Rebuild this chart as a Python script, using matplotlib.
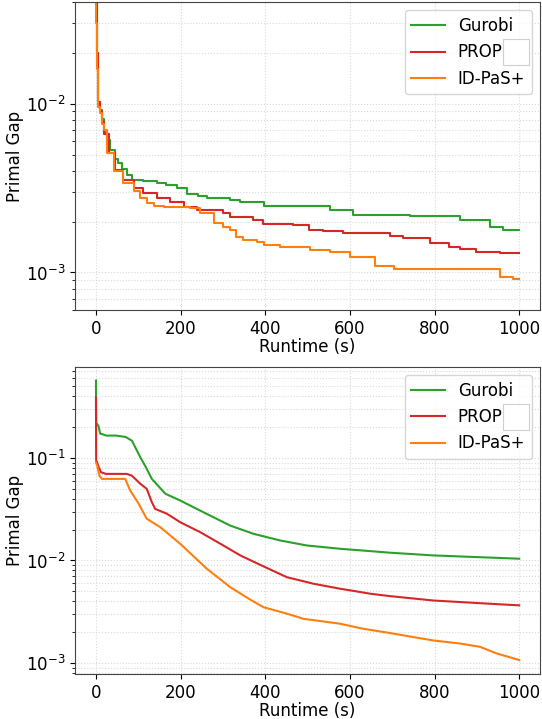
import matplotlib

matplotlib.use("Agg")
import matplotlib.pyplot as plt
from matplotlib.patches import Rectangle

plt.rcParams["font.family"] = "DejaVu Sans"
plt.rcParams["font.size"] = 12

LABELS = ["Gurobi", "PROP", "ID-PaS+"]
COLORS = ["tab:green", "tab:red", "tab:orange"]

# --- top panel: step curves (runtime s, primal gap) ---
top_gurobi_t = [0, 1, 2, 4, 6, 9, 14, 20, 26, 34, 46, 53, 62, 73, 85, 110, 144, 165,
                191, 215, 240, 262, 317, 341, 396, 553, 608, 743, 860, 931, 962, 1000]
top_gurobi_y = [0.2, 0.04, 0.02, 0.0125, 0.0102, 0.0092, 0.0081, 0.0068, 0.0061, 0.00534,
                0.0047, 0.00446, 0.0041, 0.0038, 0.00355, 0.00347, 0.00339, 0.0033,
                0.00316, 0.00291, 0.00282, 0.00275, 0.00269, 0.00263, 0.00248, 0.00233,
                0.00219, 0.00215, 0.00205, 0.00185, 0.00179, 0.00179]

top_prop_t = [0, 1, 2, 4, 6, 9, 14, 20, 30, 46, 65, 89, 112, 144, 175, 207, 238, 301,
              317, 372, 394, 465, 504, 536, 583, 695, 726, 790, 833, 860, 899, 954, 1000]
top_prop_y = [0.2, 0.04, 0.02, 0.0125, 0.0102, 0.009, 0.0078, 0.0066, 0.00512, 0.00407,
              0.00355, 0.00316, 0.00295, 0.00275, 0.00263, 0.00245, 0.00235, 0.00224,
              0.00214, 0.00205, 0.00194, 0.00191, 0.00179, 0.00176, 0.00171, 0.00164,
              0.00159, 0.00149, 0.00142, 0.00138, 0.00133, 0.0013, 0.0013]

top_idpas_t = [0, 1, 2, 4, 6, 9, 14, 18, 26, 42, 65, 89, 105, 120, 136, 160, 223, 246,
               278, 300, 317, 332, 348, 380, 396, 435, 506, 553, 600, 660, 703, 955, 986,
               1000]
top_idpas_y = [0.2, 0.03, 0.016, 0.0112, 0.0095, 0.0088, 0.0076, 0.00703, 0.00512,
               0.00397, 0.00339, 0.00302, 0.00275, 0.00258, 0.00248, 0.00245, 0.0024,
               0.00224, 0.00196, 0.00185, 0.00179, 0.00163, 0.00156, 0.00151, 0.00145,
               0.00142, 0.00135, 0.00133, 0.00124, 0.00109, 0.00105, 0.00094, 0.00092,
               0.00092]

# --- bottom panel: smooth curves ---
bot_gurobi_t = [0, 0.5, 2, 4, 6, 10, 14, 24, 47, 70, 85, 105, 116, 132, 164, 199, 254,
                317, 372, 435, 498, 577, 630, 695, 797, 1000]
bot_gurobi_y = [0.566, 0.214, 0.214, 0.21, 0.205, 0.172, 0.171, 0.165, 0.165, 0.16, 0.147,
                0.101, 0.084, 0.0624, 0.0447, 0.0384, 0.0295, 0.0219, 0.0182, 0.01567,
                0.014, 0.013, 0.0125, 0.0119, 0.0112, 0.0104]

bot_prop_t = [0, 0.5, 3, 5, 12, 24, 73, 85, 105, 120, 132, 140, 168, 199, 246, 294, 341,
              396, 451, 514, 577, 615, 648, 695, 797, 923, 1000]
bot_prop_y = [0.389, 0.094, 0.09, 0.084, 0.0724, 0.0698, 0.0698, 0.067, 0.0558, 0.0499,
              0.037, 0.0318, 0.0285, 0.0236, 0.0189, 0.01455, 0.0112, 0.00875, 0.00687,
              0.00593, 0.0053, 0.005, 0.00474, 0.00449, 0.00407, 0.0038, 0.00365]

bot_idpas_t = [0, 3, 8, 14, 69, 81, 101, 120, 152, 199, 262, 317, 368, 396, 451, 490, 576,
               631, 695, 750, 797, 860, 907, 947, 1000]
bot_idpas_y = [0.09, 0.084, 0.0672, 0.0624, 0.0624, 0.048, 0.0357, 0.0255, 0.0211,
               0.01455, 0.0083, 0.0055, 0.00407, 0.0035, 0.00303, 0.0027, 0.00242,
               0.00216, 0.00196, 0.00179, 0.00166, 0.00155, 0.00144, 0.00124, 0.00107]

TOP_YLIM = (6e-4, 4e-2)
XTICKS = [0, 200, 400, 600, 800, 1000]


def _style_axis(axis):
    axis.set_yscale("log")
    axis.set_xlabel("Runtime (s)", labelpad=0)
    axis.set_ylabel("Primal Gap")
    axis.yaxis.set_label_coords(-0.11, 0.5)
    axis.set_xticks(XTICKS)
    axis.grid(True, which="both", linestyle=":", linewidth=0.8, color="#d9d9d9")
    axis.tick_params(labelsize=12)
    for spine in axis.spines.values():
        spine.set_color("#444444")
    axis.legend(loc="upper right", fontsize=12)


fig = plt.figure(figsize=(5.42, 7.19), dpi=100)
ax_top = fig.add_axes([0.138, 0.569, 0.859, 0.428])
ax_bot = fig.add_axes([0.138, 0.0626, 0.859, 0.4274])

top_series = [(top_gurobi_t, top_gurobi_y), (top_prop_t, top_prop_y), (top_idpas_t, top_idpas_y)]
for (t, y), label, color in zip(top_series, LABELS, COLORS):
    ax_top.plot(t, y, drawstyle="steps-post", color=color, label=label, linewidth=1.5)
ax_top.set_xlim(-50, 1050)
ax_top.set_ylim(*TOP_YLIM)
_style_axis(ax_top)

bot_series = [(bot_gurobi_t, bot_gurobi_y), (bot_prop_t, bot_prop_y), (bot_idpas_t, bot_idpas_y)]
for (t, y), label, color in zip(bot_series, LABELS, COLORS):
    ax_bot.plot(t, y, color=color, label=label, linewidth=1.5)
ax_bot.set_xlim(-50, 1050)
_style_axis(ax_bot)

# small boxed patch sitting beside "PROP" in both legends
for top_px in (39, 404):
    fig.add_artist(Rectangle((503 / 542, 1 - (top_px + 26) / 719), 26 / 542, 26 / 719,
                             transform=fig.transFigure, facecolor="white",
                             edgecolor="#d0d0d0", linewidth=0.8, zorder=10))

fig.savefig("out.png", dpi=100)
plt.close(fig)
